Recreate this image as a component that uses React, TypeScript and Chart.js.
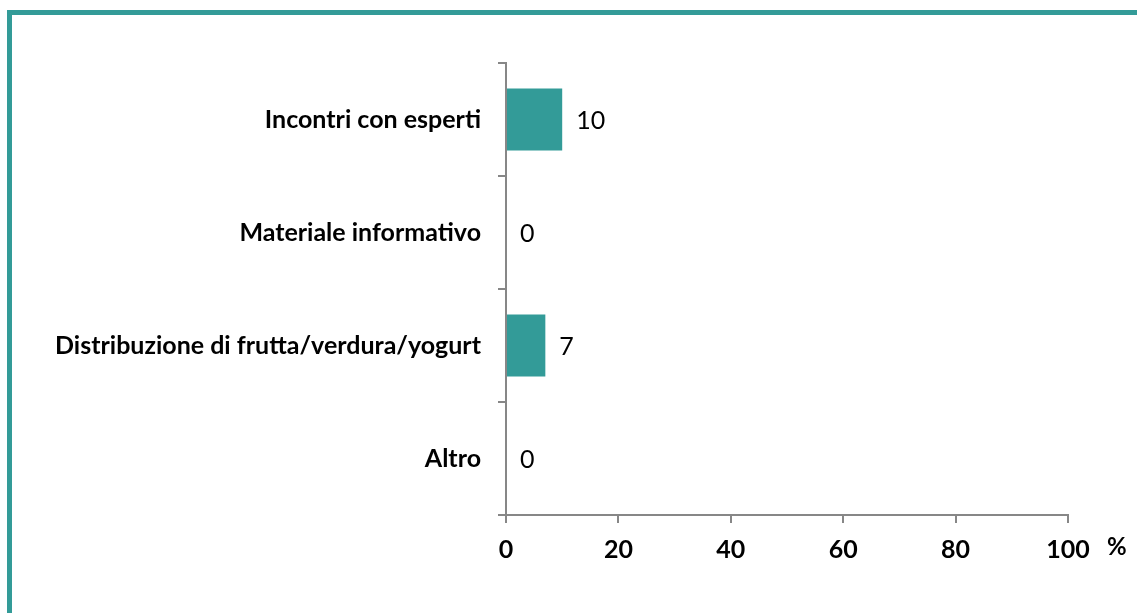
import React, { useEffect, useRef } from "react";
import { Chart, registerables } from "chart.js";

Chart.register(...registerables);

const categories = [
  "Incontri con esperti",
  "Materiale informativo",
  "Distribuzione di frutta/verdura/yogurt",
  "Altro",
];
const values = [10, 0, 7, 0];
const xTicks = [0, 20, 40, 60, 80, 100];
const unitLabel = "%";

const TEAL = "#339b98";
const AXIS = "#878787";
const FONT = "Lato, 'Open Sans', sans-serif";

export default function App() {
  const ref = useRef<HTMLCanvasElement | null>(null);

  useEffect(() => {
    if (!ref.current) return;

    const framePlugin = {
      id: "frame",
      beforeDraw(chart: any) {
        const ctx = chart.ctx;
        ctx.save();
        ctx.fillStyle = "#ffffff";
        ctx.fillRect(0, 0, chart.width, chart.height);
        ctx.fillStyle = TEAL;
        ctx.fillRect(7, 10, chart.width - 7, 5);
        ctx.fillRect(7, 10, 5, chart.height - 10);
        ctx.restore();
      },
    };

    const labelsPlugin = {
      id: "valueLabels",
      afterDatasetsDraw(chart: any) {
        const ctx = chart.ctx;
        const meta = chart.getDatasetMeta(0);
        ctx.save();
        ctx.fillStyle = "#000000";
        ctx.font = `25px ${FONT}`;
        ctx.textAlign = "left";
        ctx.textBaseline = "middle";
        meta.data.forEach((bar: any, i: number) => {
          ctx.fillText(String(values[i]), bar.x + 14, bar.y + 1);
        });
        const xs = chart.scales.x;
        ctx.font = `bold 24px ${FONT}`;
        ctx.fillText(unitLabel, xs.right + 39, xs.top + 32);
        ctx.restore();
      },
    };

    const chart = new Chart(ref.current, {
      type: "bar",
      data: {
        labels: categories,
        datasets: [
          {
            data: values,
            backgroundColor: TEAL,
            borderWidth: 0,
            barPercentage: 0.55,
            categoryPercentage: 1,
          },
        ],
      },
      options: {
        indexAxis: "y",
        animation: false,
        responsive: false,
        layout: { padding: { top: 63, right: 69, left: 0, bottom: 0 } },
        plugins: { legend: { display: false }, tooltip: { enabled: false } },
        scales: {
          x: {
            min: 0,
            max: 100,
            afterBuildTicks(scale: any) {
              scale.ticks = xTicks.map((v) => ({ value: v }));
            },
            afterFit(scale: any) {
              scale.height = 98;
            },
            grid: {
              display: true,
              drawOnChartArea: false,
              drawTicks: true,
              tickLength: 8,
              color: AXIS,
              lineWidth: 2,
            },
            border: { display: true, color: AXIS, width: 2 },
            ticks: {
              color: "#000000",
              padding: 12,
              font: { family: FONT, size: 25, weight: "bold" },
            },
          },
          y: {
            offset: true,
            afterFit(scale: any) {
              scale.width = 506;
            },
            grid: {
              display: true,
              offset: true,
              drawOnChartArea: false,
              drawTicks: true,
              tickLength: 8,
              color: AXIS,
              lineWidth: 2,
            },
            border: { display: true, color: AXIS, width: 2 },
            ticks: {
              color: "#000000",
              padding: 17,
              font: { family: FONT, size: 25, weight: "bold" },
            },
          },
        },
      },
      plugins: [framePlugin, labelsPlugin],
    });

    return () => chart.destroy();
  }, []);

  return (
    <div style={{ position: "fixed", left: 0, top: 0, width: 1137, height: 613, background: "#fff" }}>
      <canvas ref={ref} width={1137} height={613} style={{ display: "block", width: 1137, height: 613 }} />
    </div>
  );
}
